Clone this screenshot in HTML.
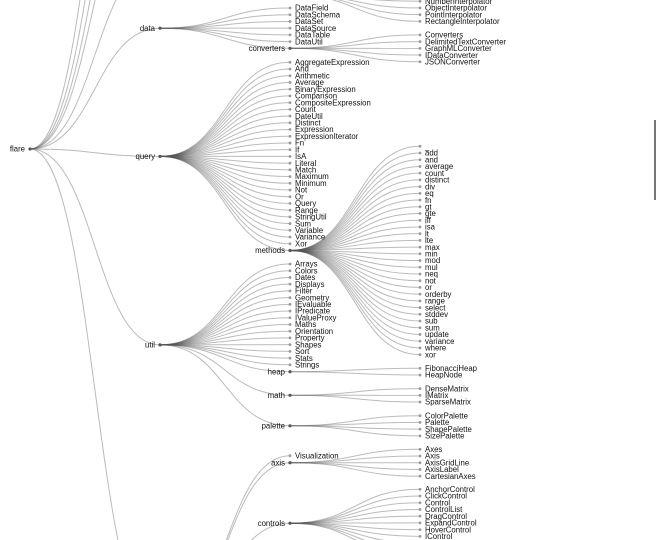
<!DOCTYPE html>
<html><head><meta charset="utf-8">
<style>
html,body{margin:0;padding:0;background:#fff;width:656px;height:540px;overflow:hidden}
svg{display:block;overflow:hidden}
text{font-family:"Liberation Sans",sans-serif;font-size:7.8px;fill:#111}
.l{fill:none;stroke:#555;stroke-opacity:.4;stroke-width:1}
</style></head>
<body>
<svg id="s" width="656" height="540" viewBox="0 0 656 540">
<defs><clipPath id="cp"><rect x="0" y="0" width="656" height="540"/></clipPath></defs>
<g clip-path="url(#cp)"><g id="links"></g><g id="nodes"></g></g>
<rect x="654" y="120" width="2" height="80" fill="#777"/>
</svg>
<script>
var S=6.72;
function seq(x,y0,names){return names.map(function(n,i){return {x:x,y:y0+i*S,n:n};});}
var L=[],N=[];
function link(a,b){L.push([a.x,a.y,b.x,b.y]);}
function kids(p,arr){arr.forEach(function(c){link(p,c);N.push(c);});}
var flare={x:30,y:149,n:"flare",i:1};N.push(flare);
[-380,-274,-201,-149,-40].forEach(function(y){link(flare,{x:160,y:y});});
var interp={x:290,y:-5.5};
link({x:160,y:-149},interp);
kids(interp,seq(420,-32.4,["ArrayInterpolator","ColorInterpolator","DateInterpolator","Interpolator","MatrixInterpolator","NumberInterpolator","ObjectInterpolator","PointInterpolator","RectangleInterpolator"]));
var data={x:160,y:28.2,n:"data",i:1};link(flare,data);N.push(data);
kids(data,seq(290,8,["DataField","DataSchema","DataSet","DataSource","DataTable","DataUtil"]));
var conv={x:290,y:48.3,n:"converters",i:1};link(data,conv);N.push(conv);
kids(conv,seq(420,34.9,["Converters","DelimitedTextConverter","GraphMLConverter","IDataConverter","JSONConverter"]));
var query={x:160,y:156.4,n:"query",i:1};link(flare,query);N.push(query);
kids(query,seq(290,62.3,["AggregateExpression","And","Arithmetic","Average","BinaryExpression","Comparison","CompositeExpression","Count","DateUtil","Distinct","Expression","ExpressionIterator","Fn","If","IsA","Literal","Match","Maximum","Minimum","Not","Or","Query","Range","StringUtil","Sum","Variable","Variance","Xor"]));
var meth={x:290,y:250.5,n:"methods",i:1};link(query,meth);N.push(meth);
kids(meth,seq(420,146.3,["_","add","and","average","count","distinct","div","eq","fn","gt","gte","iff","isa","lt","lte","max","min","mod","mul","neq","not","or","orderby","range","select","stddev","sub","sum","update","variance","where","xor"]));
var util={x:160,y:344.9,n:"util",i:1};link(flare,util);N.push(util);
kids(util,seq(290,264,["Arrays","Colors","Dates","Displays","Filter","Geometry","IEvaluable","IPredicate","IValueProxy","Maths","Orientation","Property","Shapes","Sort","Stats","Strings"]));
var heap={x:290,y:371.7,n:"heap",i:1};link(util,heap);N.push(heap);
kids(heap,seq(420,368.3,["FibonacciHeap","HeapNode"]));
var math={x:290,y:395.3,n:"math",i:1};link(util,math);N.push(math);
kids(math,seq(420,388.6,["DenseMatrix","IMatrix","SparseMatrix"]));
var pal={x:290,y:425.8,n:"palette",i:1};link(util,pal);N.push(pal);
kids(pal,seq(420,415.7,["ColorPalette","Palette","ShapePalette","SizePalette"]));
var vis={x:160,y:632};link(flare,vis);
kids(vis,[{x:290,y:455.7,n:"Visualization"}]);
var axis={x:290,y:462.7,n:"axis",i:1};link(vis,axis);N.push(axis);
kids(axis,seq(420,449.3,["Axes","Axis","AxisGridLine","AxisLabel","CartesianAxes"]));
var ctrl={x:290,y:523.2,n:"controls",i:1};link(vis,ctrl);N.push(ctrl);
kids(ctrl,seq(420,489.3,["AnchorControl","ClickControl","Control","ControlList","DragControl","ExpandControl","HoverControl","IControl","PanZoomControl","SelectionControl","TooltipControl"]));
[600,660,700,760].forEach(function(y){link(vis,{x:290,y:y});});
var ns="http://www.w3.org/2000/svg";
var gl=document.getElementById("links"),gn=document.getElementById("nodes");
L.forEach(function(l){var m=(l[0]+l[2])/2;var p=document.createElementNS(ns,"path");
p.setAttribute("class","l");p.setAttribute("d","M"+l[0]+","+l[1]+"C"+m+","+l[1]+" "+m+","+l[3]+" "+l[2]+","+l[3]);gl.appendChild(p);});
N.forEach(function(d){if(d.y>538||d.y<-10)return;var c=document.createElementNS(ns,"circle");c.setAttribute("cx",d.x);c.setAttribute("cy",d.y);
c.setAttribute("r",d.i?1.6:1.4);c.setAttribute("fill",d.i?"#555":"#999");gn.appendChild(c);
if(d.n){var t=document.createElementNS(ns,"text");t.setAttribute("x",d.i?d.x-5:d.x+5);t.setAttribute("y",d.y+2.7);
if(d.i)t.setAttribute("text-anchor","end");t.textContent=d.n;gn.appendChild(t);}});
</script>
</body></html>
